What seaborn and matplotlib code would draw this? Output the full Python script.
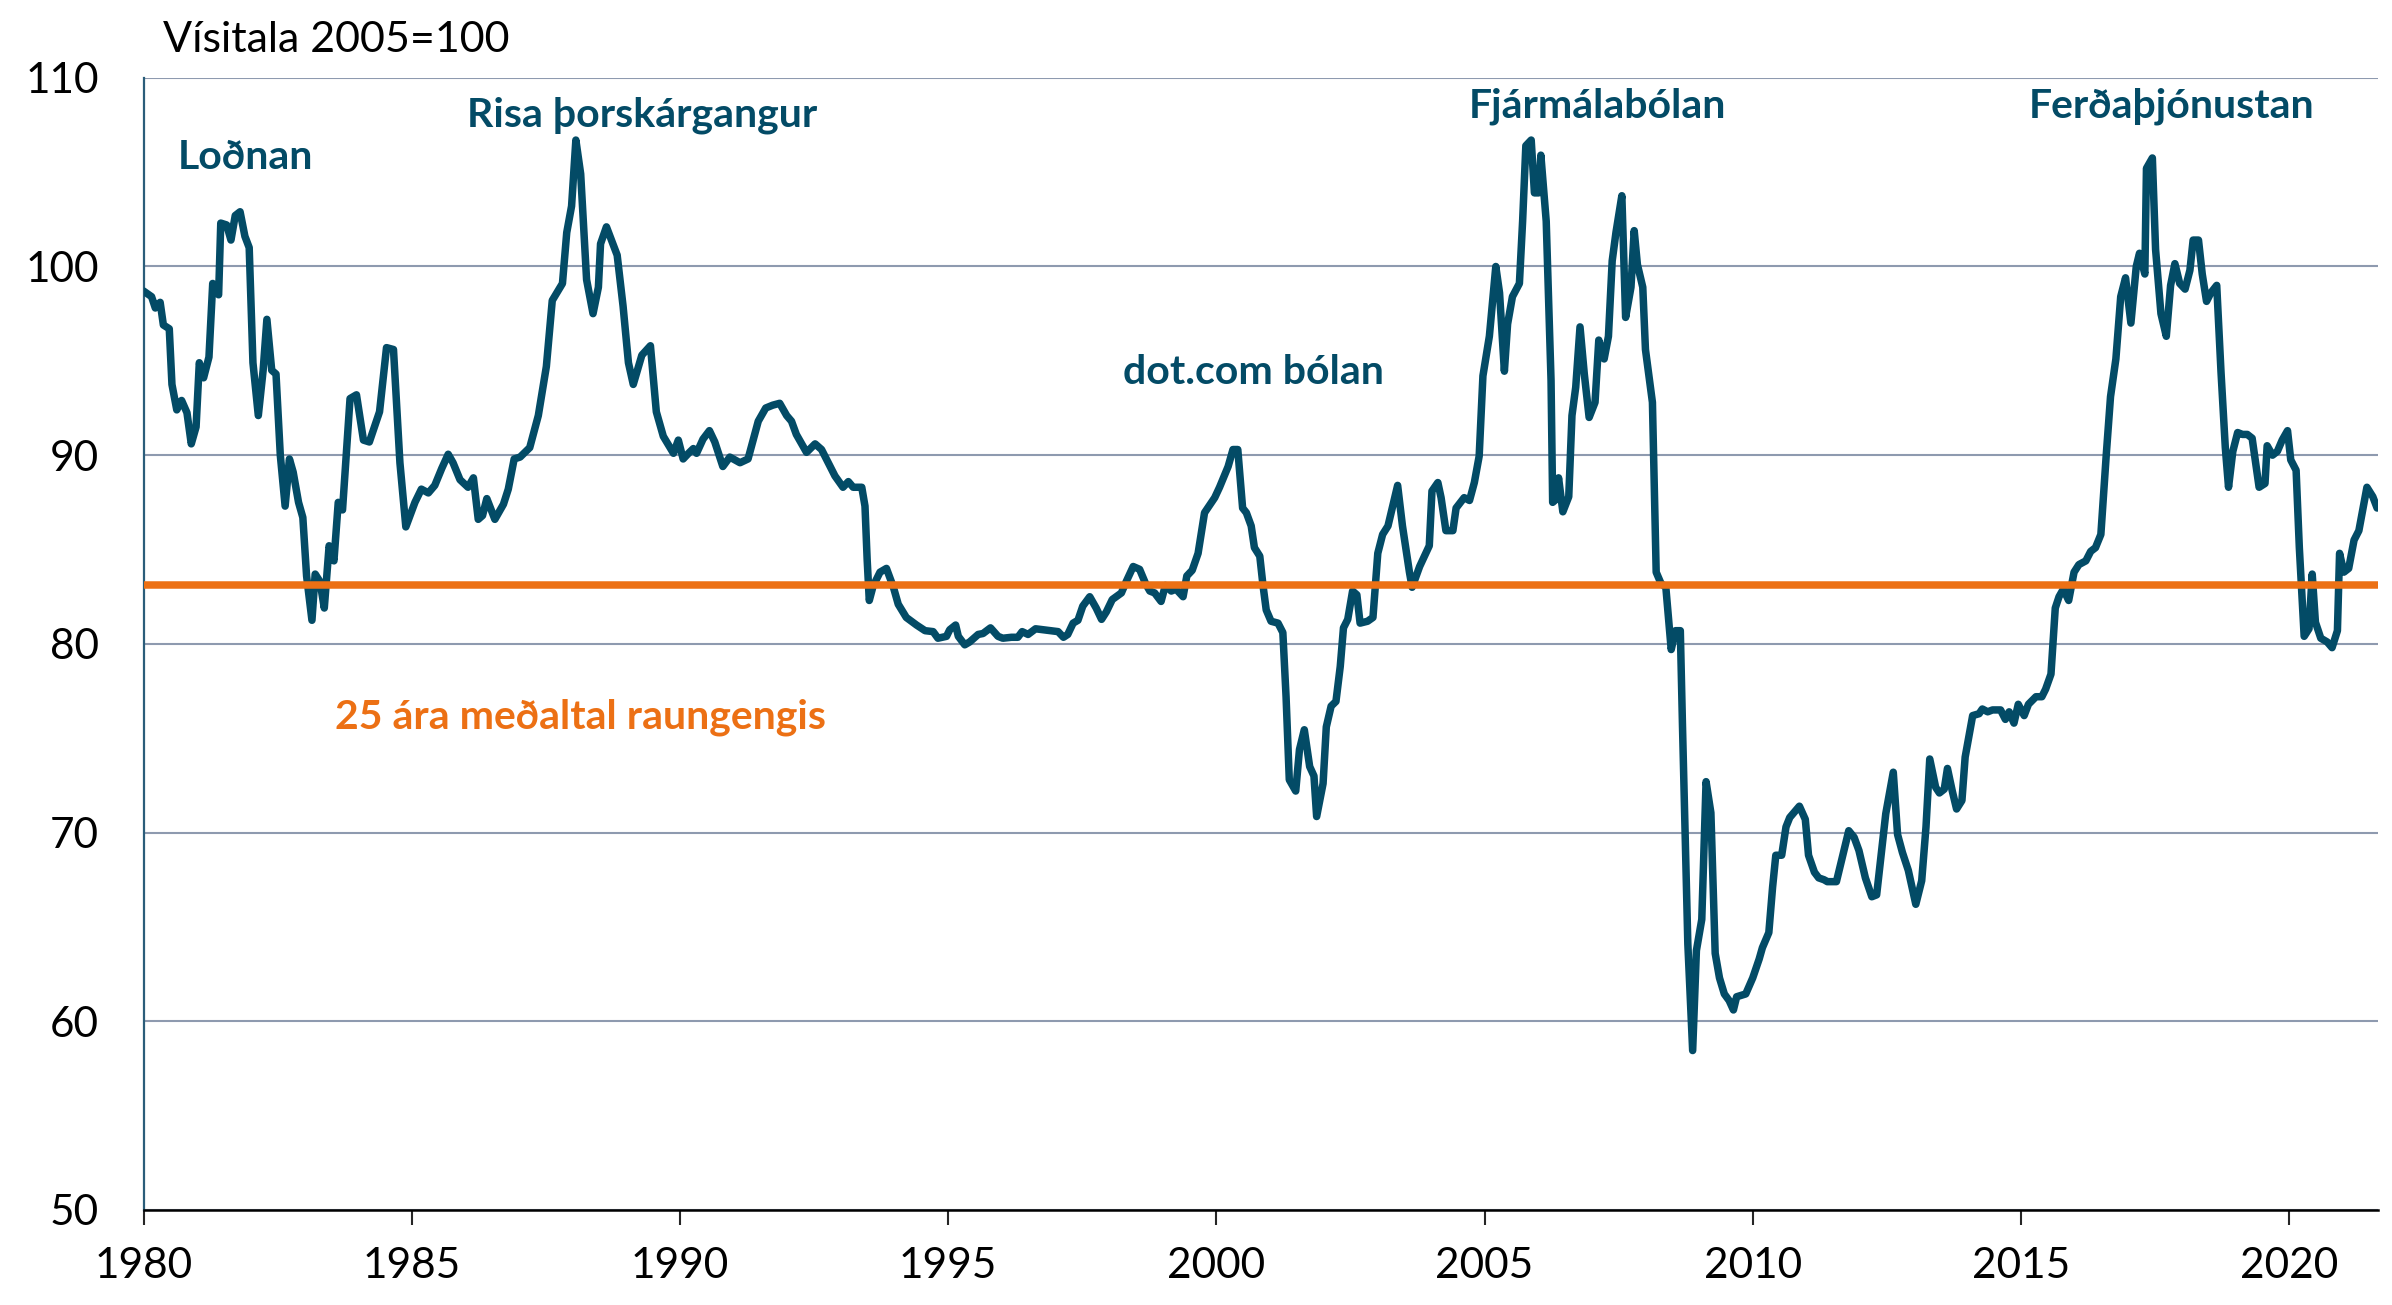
import matplotlib
matplotlib.use("Agg")
import matplotlib.pyplot as plt
import pandas as pd
import seaborn as sns

# Raungengi, vísitala 2005=100 (lesið af myndinni)
years = [
    1980.00, 1980.15, 1980.22, 1980.31, 1980.37, 1980.48, 1980.53, 1980.62, 1980.71, 1980.81,
    1980.89, 1980.98, 1981.04, 1981.12, 1981.22, 1981.29, 1981.40, 1981.44, 1981.55, 1981.63,
    1981.71, 1981.80, 1981.89, 1981.97, 1982.04, 1982.14, 1982.23, 1982.30, 1982.39, 1982.47,
    1982.55, 1982.64, 1982.72, 1982.79, 1982.89, 1982.97, 1983.04, 1983.14, 1983.20, 1983.29,
    1983.37, 1983.46, 1983.55, 1983.63, 1983.71, 1983.85, 1983.97, 1984.10, 1984.21, 1984.40,
    1984.53, 1984.66, 1984.78, 1984.89,
    1985.06, 1985.18, 1985.31, 1985.43, 1985.56, 1985.68, 1985.77, 1985.90, 1986.05, 1986.15,
    1986.24, 1986.32, 1986.40, 1986.55, 1986.71, 1986.80, 1986.91, 1987.02, 1987.20, 1987.36,
    1987.51, 1987.62, 1987.81, 1987.89, 1987.98, 1988.06, 1988.15, 1988.26, 1988.38, 1988.48,
    1988.52, 1988.63, 1988.83, 1988.94, 1989.04, 1989.13, 1989.29, 1989.45, 1989.56, 1989.69,
    1989.88, 1989.97,
    1990.06, 1990.16, 1990.25, 1990.31, 1990.43, 1990.55, 1990.65, 1990.80, 1990.93, 1991.12,
    1991.27, 1991.37, 1991.46, 1991.60, 1991.73, 1991.86, 1991.99, 1992.08, 1992.17, 1992.36,
    1992.52, 1992.64, 1992.73, 1992.89, 1993.04, 1993.14, 1993.23, 1993.39, 1993.45, 1993.49,
    1993.53, 1993.60, 1993.73, 1993.85, 1993.98, 1994.07, 1994.22, 1994.41, 1994.57, 1994.72,
    1994.81, 1994.97,
    1995.03, 1995.14, 1995.19, 1995.31, 1995.40, 1995.56, 1995.65, 1995.79, 1995.93, 1996.02,
    1996.18, 1996.30, 1996.38, 1996.49, 1996.63, 1996.77, 1996.92, 1997.05, 1997.15, 1997.23,
    1997.33, 1997.42, 1997.51, 1997.64, 1997.76, 1997.86, 1997.95, 1998.06, 1998.23, 1998.32,
    1998.45, 1998.57, 1998.68, 1998.76, 1998.85, 1998.97, 1999.05, 1999.16, 1999.25, 1999.38,
    1999.45, 1999.55, 1999.66, 1999.78, 1999.97,
    2000.06, 2000.22, 2000.31, 2000.40, 2000.49, 2000.56, 2000.65, 2000.71, 2000.81, 2000.87,
    2000.93, 2001.02, 2001.15, 2001.24, 2001.30, 2001.36, 2001.48, 2001.55, 2001.64, 2001.74,
    2001.82, 2001.87, 2001.99, 2002.05, 2002.14, 2002.23, 2002.31, 2002.37, 2002.45, 2002.54,
    2002.62, 2002.68, 2002.82, 2002.92, 2003.01, 2003.10, 2003.20, 2003.38, 2003.47, 2003.60,
    2003.65, 2003.79, 2003.97, 2004.02, 2004.13, 2004.19, 2004.28, 2004.41, 2004.47, 2004.62,
    2004.72, 2004.81, 2004.90, 2004.97,
    2005.09, 2005.21, 2005.28, 2005.37, 2005.43, 2005.52, 2005.65, 2005.71, 2005.77, 2005.87,
    2005.93, 2006.01, 2006.05, 2006.15, 2006.24, 2006.27, 2006.33, 2006.38, 2006.46, 2006.57,
    2006.63, 2006.70, 2006.78, 2006.86, 2006.95, 2007.06, 2007.13, 2007.23, 2007.31, 2007.38,
    2007.45, 2007.56, 2007.63, 2007.73, 2007.79, 2007.85, 2007.95, 2008.00, 2008.13, 2008.20,
    2008.29, 2008.38, 2008.48, 2008.56, 2008.65, 2008.69, 2008.79, 2008.88, 2008.95, 2009.05,
    2009.13, 2009.22, 2009.30, 2009.38, 2009.47, 2009.56, 2009.64, 2009.70, 2009.87, 2010.00,
    2010.12, 2010.18, 2010.30, 2010.37, 2010.43, 2010.54, 2010.62, 2010.69, 2010.87, 2010.98,
    2011.04, 2011.15, 2011.23, 2011.33, 2011.39, 2011.56, 2011.67, 2011.79, 2011.89, 2011.98,
    2012.10, 2012.22, 2012.31, 2012.48, 2012.62, 2012.70, 2012.79, 2012.90, 2013.04, 2013.15,
    2013.23, 2013.30, 2013.41, 2013.48, 2013.57, 2013.63, 2013.72, 2013.80, 2013.90, 2013.96,
    2014.10, 2014.22, 2014.28, 2014.38, 2014.47, 2014.62, 2014.71, 2014.78, 2014.87, 2014.95,
    2015.06, 2015.14, 2015.28, 2015.39, 2015.46,
    2015.56, 2015.64, 2015.71, 2015.79, 2015.89, 2015.99, 2016.08, 2016.21, 2016.30, 2016.39,
    2016.49, 2016.59, 2016.67, 2016.77, 2016.86, 2016.95, 2017.05, 2017.15, 2017.21, 2017.31,
    2017.34, 2017.45, 2017.51, 2017.61, 2017.71, 2017.79, 2017.87, 2017.96, 2018.06, 2018.15,
    2018.21, 2018.31, 2018.38, 2018.46, 2018.54, 2018.65, 2018.73, 2018.81, 2018.87, 2018.95,
    2019.04, 2019.13, 2019.22, 2019.31, 2019.44, 2019.55, 2019.59, 2019.69, 2019.78, 2019.87,
    2019.97, 2020.03, 2020.13, 2020.19, 2020.28, 2020.37, 2020.43, 2020.49, 2020.59, 2020.71,
    2020.80, 2020.90, 2020.94, 2021.02, 2021.11, 2021.21, 2021.30, 2021.45, 2021.56, 2021.64,
]

index_values = [
    98.7, 98.4, 97.8, 98.1, 96.9, 96.7, 93.75, 92.4, 92.9, 92.25,
    90.6, 91.5, 94.9, 94.1, 95.2, 99.1, 98.5, 102.3, 102.2, 101.4,
    102.7, 102.9, 101.6, 101.0, 94.9, 92.1, 94.5, 97.2, 94.5, 94.3,
    90.0, 87.3, 89.8, 89.1, 87.5, 86.7, 83.6, 81.25, 83.7, 83.3,
    81.9, 85.2, 84.4, 87.5, 87.1, 93.0, 93.2, 90.8, 90.7, 92.3,
    95.7, 95.6, 89.6, 86.2,
    87.5, 88.2, 88.0, 88.4, 89.3, 90.05, 89.6, 88.7, 88.3, 88.8,
    86.6, 86.8, 87.7, 86.6, 87.4, 88.2, 89.8, 89.9, 90.4, 92.1,
    94.7, 98.2, 99.1, 101.8, 103.2, 106.7, 104.9, 99.3, 97.5, 98.9,
    101.2, 102.1, 100.6, 97.9, 94.9, 93.75, 95.3, 95.8, 92.3, 91.0,
    90.1, 90.8,
    89.8, 90.1, 90.35, 90.1, 90.85, 91.3, 90.7, 89.4, 89.9, 89.6,
    89.8, 90.85, 91.8, 92.5, 92.65, 92.75, 92.1, 91.8, 91.1, 90.15,
    90.6, 90.3, 89.8, 88.9, 88.3, 88.6, 88.3, 88.3, 87.3, 84.5,
    82.3, 83.05, 83.8, 84.0, 83.0, 82.1, 81.4, 81.0, 80.7, 80.65,
    80.3, 80.4,
    80.75, 81.0, 80.4, 79.95, 80.1, 80.5, 80.55, 80.85, 80.4, 80.3,
    80.35, 80.35, 80.65, 80.5, 80.8, 80.75, 80.7, 80.65, 80.35, 80.5,
    81.1, 81.25, 82.0, 82.5, 81.9, 81.3, 81.7, 82.35, 82.7, 83.3,
    84.1, 83.95, 83.2, 82.8, 82.7, 82.25, 83.1, 82.8, 82.9, 82.5,
    83.6, 83.9, 84.8, 86.95, 87.75,
    88.3, 89.4, 90.3, 90.3, 87.2, 86.95, 86.25, 85.1, 84.65, 83.1,
    81.8, 81.2, 81.1, 80.6, 77.2, 72.8, 72.2, 74.4, 75.45, 73.5,
    73.0, 70.85, 72.6, 75.6, 76.7, 76.95, 78.8, 80.85, 81.3, 82.8,
    82.6, 81.1, 81.2, 81.4, 84.8, 85.8, 86.25, 88.4, 86.25, 83.8,
    83.0, 84.1, 85.2, 88.1, 88.55, 87.75, 86.0, 86.0, 87.2, 87.75,
    87.6, 88.55, 89.95, 94.2,
    96.3, 100.0, 98.6, 94.45, 96.95, 98.4, 99.1, 102.4, 106.4, 106.7,
    103.9, 103.9, 105.9, 102.4, 93.95, 87.5, 87.65, 88.8, 87.0, 87.8,
    92.1, 93.6, 96.8, 94.3, 92.0, 92.8, 96.1, 95.1, 96.3, 100.3,
    101.8, 103.75, 97.3, 98.9, 101.9, 100.1, 98.9, 95.6, 92.8, 83.8,
    83.2, 83.0, 79.7, 80.7, 80.7, 75.7, 64.1, 58.45, 63.75, 65.4,
    72.7, 71.05, 63.6, 62.3, 61.45, 61.1, 60.6, 61.3, 61.45, 62.3,
    63.3, 63.9, 64.7, 67.1, 68.8, 68.8, 70.3, 70.8, 71.4, 70.7,
    68.8, 67.9, 67.6, 67.5, 67.4, 67.4, 68.7, 70.1, 69.75, 69.05,
    67.6, 66.6, 66.7, 71.0, 73.2, 69.9, 68.95, 68.0, 66.2, 67.45,
    70.3, 73.9, 72.4, 72.1, 72.3, 73.4, 72.2, 71.25, 71.7, 74.0,
    76.2, 76.3, 76.55, 76.4, 76.5, 76.5, 76.0, 76.4, 75.8, 76.8,
    76.2, 76.8, 77.2, 77.2, 77.6,
    78.4, 81.9, 82.5, 82.9, 82.3, 83.8, 84.2, 84.4, 84.9, 85.1,
    85.8, 90.0, 93.1, 95.1, 98.4, 99.4, 97.0, 100.0, 100.7, 99.6,
    105.2, 105.75, 100.9, 97.5, 96.3, 99.0, 100.15, 99.1, 98.8, 99.8,
    101.4, 101.4, 99.6, 98.15, 98.6, 99.0, 94.4, 90.4, 88.3, 90.2,
    91.2, 91.1, 91.1, 90.9, 88.3, 88.5, 90.5, 90.0, 90.2, 90.8,
    91.3, 89.75, 89.2, 85.1, 80.4, 80.8, 83.7, 81.15, 80.3, 80.1,
    79.8, 80.7, 84.8, 83.8, 84.0, 85.5, 86.0, 88.3, 87.8, 87.2,
]

avg_level = 83.1

labels = ["Loðnan", "Risa þorskárgangur", "dot.com bólan", "Fjármálabólan", "Ferðaþjónustan"]
label_x = [1981.9, 1989.3, 2000.7, 2007.1, 2017.8]
label_y = [105.8, 108.0, 94.4, 108.5, 108.5]

avg_label = "25 ára meðaltal raungengis"

line_color = "#034B66"
avg_color = "#EC7014"

df = pd.DataFrame({"ar": years, "visitala": index_values})

sns.set_style("white")
plt.rcParams["font.family"] = ["Lato", "DejaVu Sans"]

fig = plt.figure(figsize=(23.92, 13.05), dpi=100)
ax = fig.add_axes([0.06, 0.0728, 0.934, 0.8676])

# Series
sns.lineplot(data=df, x="ar", y="visitala", color=line_color, linewidth=5.4,
             estimator=None, ax=ax, zorder=3)

# 25 year average
ax.axhline(avg_level, color=avg_color, linewidth=5.4, zorder=4)

ax.set_xlim(1980, 2021.65)
ax.set_ylim(50, 110)
ax.set_yticks(range(50, 111, 10))
ax.set_xticks(range(1980, 2021, 5))

ax.yaxis.grid(True, color="#8E9AAF", linewidth=1.5)
ax.set_axisbelow(True)

for side in ["top", "right"]:
    ax.spines[side].set_visible(False)
ax.spines["left"].set_color("#2B5D7A")
ax.spines["left"].set_linewidth(1.6)
ax.spines["bottom"].set_color("black")
ax.spines["bottom"].set_linewidth(1.8)

ax.tick_params(axis="y", length=0, pad=32, labelsize=30.5, labelcolor="black")
ax.tick_params(axis="x", length=11, width=1.5, pad=16, labelsize=30.5,
               labelcolor="black", direction="out", bottom=True)

ax.set_xlabel("")
ax.set_ylabel("")

for text, x, y in zip(labels, label_x, label_y):
    ax.text(x, y, text, ha="center", va="center", fontsize=29.5,
            fontweight="bold", color=line_color)

ax.text(1988.15, 76.1, avg_label, ha="center", va="center", fontsize=29.5,
        fontweight="bold", color=avg_color)

fig.text(0.068, 0.969, "Vísitala 2005=100", ha="left", va="center",
         fontsize=31, color="black")

fig.savefig("out.png", dpi=100)
